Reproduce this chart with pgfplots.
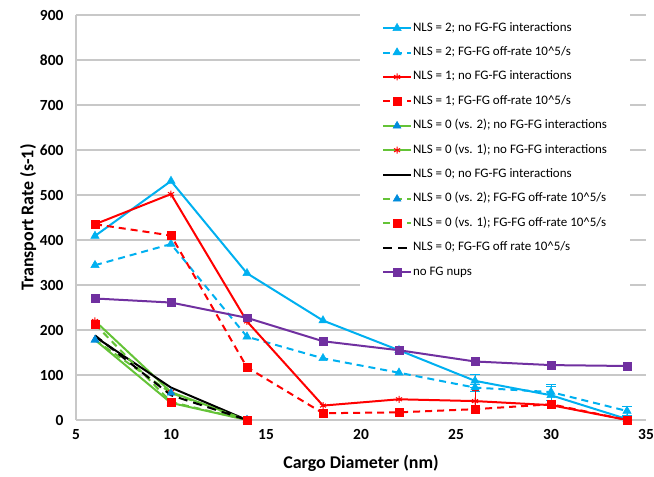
\documentclass[border=0pt]{standalone}
\usepackage{fontspec}
\setmainfont{Carlito}
\usepackage{pgfplots}
\pgfplotsset{compat=1.18}
\definecolor{cy}{RGB}{0,176,240}
\definecolor{rd}{RGB}{255,0,0}
\definecolor{gr}{RGB}{100,195,55}
\definecolor{pu}{RGB}{112,48,160}
\definecolor{bl}{RGB}{0,140,220}
\definecolor{gridc}{RGB}{200,200,200}
\begin{document}
\begin{tikzpicture}
\begin{axis}[
 scale only axis, width=570bp, height=405bp,
 xmin=5, xmax=35, ymin=0, ymax=900,
 xtick={5,10,...,35}, ytick={0,100,...,900},
 ymajorgrids, grid style={gridc, line width=1.3bp},
 axis x line*=bottom, axis y line*=left,
 axis line style={gridc, line width=1.3bp, -},
 major tick length=0pt,
 /pgf/number format/assume math mode=true,
 ticklabel style={font=\bfseries\fontsize{15.5}{15.5}\selectfont},
 xticklabel style={yshift=-6bp},
 yticklabel style={xshift=-9bp},
 xlabel={Cargo Diameter (nm)}, ylabel={Transport Rate (s-1)},
 label style={font=\bfseries\fontsize{18}{18}\selectfont},
 xlabel style={at={(axis description cs:0.5,-0.106)}, anchor=center},
 ylabel style={at={(axis description cs:-0.084,0.5)}, anchor=center},
 legend style={at={(axis description cs:0.498,1.0025)}, anchor=north west,
   draw=none, fill=white, font=\fontsize{13}{15}\selectfont,
   inner xsep=22bp, inner ysep=7bp, row sep=10.4bp,
   nodes={inner sep=1bp, text height=9bp, text depth=3bp}},
 legend cell align=left,
 legend image code/.code={\draw[mark repeat=2,mark phase=2] plot coordinates {(0bp,0bp) (14bp,0bp) (28bp,0bp)};},
 every axis plot/.append style={line width=2bp},
 error bars/y dir=both, error bars/y explicit,
]
% NLS = 2; no FG-FG
\addplot[color=cy, mark=triangle*, mark size=4.8bp, mark options={solid, line width=0.5bp},
  error bars/.cd, error bar style={line width=1bp}]
 coordinates {(6,409) (10,531) (14,326) (18,221) (22,155) (26,87) +- (0,14) (30,55) +- (0,20) (34,2) +- (0,6)};
\addlegendentry{NLS = 2; no FG-FG interactions}
% NLS = 2; off-rate
\addplot[color=cy, dash pattern=on 7bp off 5bp, mark=triangle*, mark size=4.8bp, mark options={solid, line width=0.5bp},
  error bars/.cd, error bar style={solid, line width=1bp}]
 coordinates {(6,344) (10,391) (14,185) (18,137) (22,105) (26,72) +- (0,8) (30,62) +- (0,18) (34,20) +- (0,10)};
\addlegendentry{NLS = 2; FG-FG off-rate 10\^{}5/s}
% NLS = 1; no FG-FG
\addplot[color=rd, mark=asterisk, mark size=3.5bp, mark options={solid, line width=1bp},
  error bars/.cd, error bar style={line width=0.8bp}]
 coordinates {(6,435) (10,502) (14,219) (18,32) (22,46) (26,42) +- (0,25) (30,33) (34,0)};
\addlegendentry{NLS = 1; no FG-FG interactions}
% NLS = 1; off-rate
\addplot[color=rd, dash pattern=on 7bp off 5bp, mark=square*, mark size=3.8bp, mark options={solid, line width=0.5bp}]
 coordinates {(6,435) (10,410) (14,117) (18,15) (22,17) (26,24) (30,35) (34,0)};
\addlegendentry{NLS = 1; FG-FG off-rate 10\^{}5/s}
% NLS = 0 (vs 2); no FG-FG
\addplot[color=gr, mark=triangle*, mark size=4.5bp, mark options={solid, fill=bl, draw=bl, line width=0.5bp}]
 coordinates {(6,178) (10,38) (14,0)};
\addlegendentry{NLS = 0 (vs. 2); no FG-FG interactions}
% NLS = 0 (vs 1); no FG-FG
\addplot[color=gr, mark=asterisk, mark size=3.5bp, mark options={solid, draw=rd, line width=1bp}]
 coordinates {(6,220) (10,62) (14,0)};
\addlegendentry{NLS = 0 (vs. 1); no FG-FG interactions}
% NLS = 0; no FG-FG
\addplot[color=black, mark=none]
 coordinates {(6,185) (10,72) (14,0)};
\addlegendentry{NLS = 0; no FG-FG interactions}
% NLS = 0 (vs 2); off-rate
\addplot[color=gr, dash pattern=on 7bp off 5bp, mark=triangle*, mark size=4.5bp, mark options={solid, fill=bl, draw=bl, line width=0.5bp}]
 coordinates {(6,178) (10,60) (14,0)};
\addlegendentry{NLS = 0 (vs. 2); FG-FG off-rate 10\^{}5/s}
% NLS = 0 (vs 1); off-rate
\addplot[color=gr, dash pattern=on 7bp off 5bp, mark=square*, mark size=3.8bp, mark options={solid, fill=rd, draw=rd, line width=0.5bp}]
 coordinates {(6,213) (10,40) (14,0)};
\addlegendentry{NLS = 0 (vs. 1); FG-FG off-rate 10\^{}5/s}
% NLS = 0; off-rate
\addplot[color=black, dash pattern=on 9bp off 6bp, mark=none]
 coordinates {(6,188) (10,55) (14,0)};
\addlegendentry{NLS = 0; FG-FG off rate 10\^{}5/s}
% no FG nups
\addplot[color=pu, mark=square*, mark size=3.8bp, mark options={solid, line width=0.5bp}]
 coordinates {(6,270) (10,261) (14,227) (18,175) (22,155) (26,130) (30,122) (34,120)};
\addlegendentry{no FG nups}
\coordinate (bbl) at (rel axis cs:-0.13333,-0.14074);
\coordinate (btr) at (rel axis cs:1.01404,1.03704);
\end{axis}
\pgfresetboundingbox
\path[use as bounding box] (bbl) rectangle (btr);
\end{tikzpicture}
\end{document}
